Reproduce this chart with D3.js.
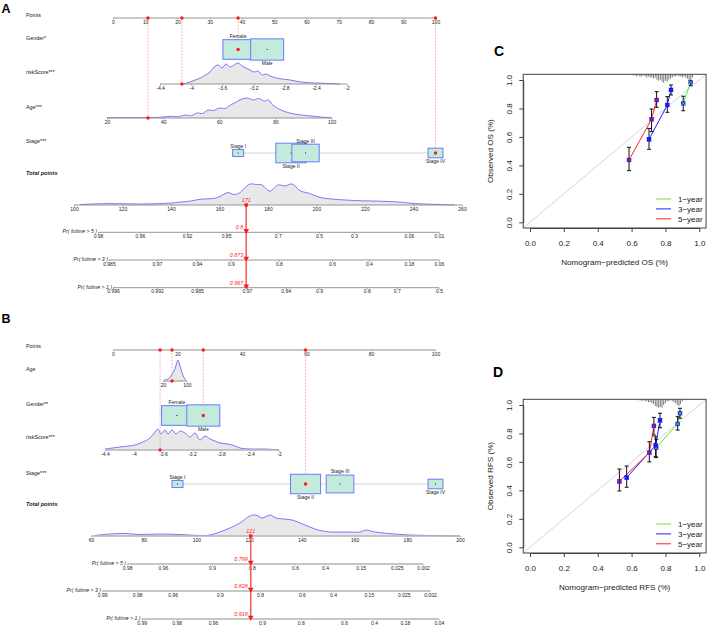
<!DOCTYPE html>
<html><head><meta charset="utf-8">
<script src="https://cdn.jsdelivr.net/npm/d3@7"></script>
<style>body{margin:0;background:#fff}svg{display:block;font-family:"Liberation Sans",Arial,sans-serif}</style>
</head><body><svg id="c" width="708" height="626"></svg>
<script>
// ================= DATA =================
// ---- shared levels ----
const genderLevels = ["Female", "Male"];
const stageLevels = ["Stage I", "Stage II", "Stage III", "Stage IV"];
const riskTicks = [-4.4, -4, -3.6, -3.2, -2.8, -2.4, -2];
const probTimes = [5, 3, 1];

// ---- Panel A (OS nomogram) ----
const rowLabelsA = ["Points", "Gender*", "riskScore***", "Age***", "Stage***", "Total points"];
const pointTicksA = [0, 10, 20, 30, 40, 50, 60, 70, 80, 90, 100];
const genderPointsA = [38.8, 47.8];
const genderFreqA = [0.46, 0.54];
const riskPointsA = [14.6, 72.6];           // points at riskScore -4.4 and -2
const riskDensA = [[-4.12,0.3],[-4.08,0.5],[-4.015,2],[-3.95,4],[-3.886,6],[-3.82,9],[-3.758,12],[-3.707,17],[-3.655,19],[-3.604,16],[-3.553,20],[-3.5,17],[-3.45,19],[-3.4,21],[-3.347,18],[-3.296,16],[-3.245,14],[-3.193,12],[-3.142,13],[-3.09,9],[-3.04,10],[-2.99,8],[-2.91,6],[-2.834,5],[-2.73,4],[-2.63,2.5],[-2.53,1.5],[-2.4,1],[-2.22,0.5],[-2.09,0]];
const ageTicksA = [20, 40, 60, 80, 100];
const agePointsA = [-1.86, 67.8];           // points at age 20 and 100
const ageDensA = [[20,0.3],[25,0.4],[30,0.3],[35,0.5],[38,0.6],[40,1],[43,1.8],[45,1.2],[48,3],[50,2.2],[52,5],[54,4.5],[56,8],[58,7.5],[60,10],[62,9.5],[64,13],[66,16],[68,19],[70,20],[72,18],[74,19.5],[76,17],[77.5,18],[79,13],[82,8],[85,5],[89,3],[93,2],[96,1],[100,0.3]];
const stagePointsA = [38.8, 55.2, 59.7, 100];
const stageFreqA = [0.06, 0.46, 0.37, 0.11];
const totalTicksA = [100, 120, 140, 160, 180, 200, 220, 240, 260];
const totalDensA = [[102.5,0.5],[114.8,1.5],[127.2,1],[139.6,2],[143.7,3],[147.8,4],[152,6],[158,7],[160.2,9],[163.5,13],[166,11],[168.5,13],[170,17],[172.6,22],[175,21.5],[177.5,21],[180.8,14.5],[184.1,21],[187,20],[190,22],[193.2,15],[197.3,12],[201.4,8],[207.6,6],[217.9,4.5],[226.2,4],[234.4,3],[240.6,1.5],[250.9,0.5],[257,0]];
const probTicksA = [
  [["0.98",109.9],["0.96",127.2],["0.92",146.6],["0.85",162.7],["0.7",184],["0.5",201],["0.3",215.5],["0.06",238.1],["0.01",250.5]],
  [["0.985",114.4],["0.97",134.2],["0.94",150.7],["0.9",164.7],["0.8",184.5],["0.6",206.4],["0.4",221.6],["0.18",238.1],["0.06",250.5]],
  [["0.996",116.1],["0.992",134.2],["0.985",150.7],["0.97",171.3],["0.94",187.3],["0.9",201],["0.8",220.7],["0.7",233.1],["0.5",250.5]]
];
const patientA = ["Female", -4.12, 34.6, "Stage IV"];   // gender, riskScore, age, stage
const probValuesA = ["0.8", "0.873", "0.967"];

// ---- Panel B (RFS nomogram) ----
const rowLabelsB = ["Points", "Age", "Gender**", "riskScore***", "Stage***", "Total points"];
const pointTicksB = [0, 20, 40, 60, 80, 100];
const ageTicksB = [20, 100];
const agePointsB = [15.5, 22.9];
const ageDensB = [[22,0.3],[26.7,1],[36.7,2],[46.7,5],[53.3,8],[60,12],[65,17],[70,21],[75,17],[80,12],[86.7,6],[93.3,2],[100,0]];
const genderPointsB = [19.8, 28.0];
const genderFreqB = [0.46, 0.54];
const riskPointsB = [-2.5, 51.5];
const riskDensB = [[-4.4,1],[-4.193,3],[-3.986,5],[-3.848,9],[-3.779,12],[-3.71,18],[-3.669,21],[-3.628,16],[-3.572,20],[-3.531,16],[-3.476,20],[-3.421,16],[-3.366,19],[-3.297,17],[-3.228,13],[-3.159,17],[-3.09,10],[-3.021,14],[-2.952,11],[-2.883,9],[-2.814,7],[-2.703,6],[-2.607,4],[-2.538,2],[-2.4,1],[-2.193,1],[-2,0]];
const stagePointsB = [20.0, 59.7, 70.4, 100];
const stageFreqB = [0.06, 0.45, 0.38, 0.11];
const totalTicksB = [60, 80, 100, 120, 140, 160, 180, 200];
const totalDensB = [[61.5,0.5],[67.2,2],[72.9,2.5],[78.6,1.5],[86.2,2],[93.8,1.5],[101.4,0.5],[105.1,1],[108.9,4],[112.7,8],[116.5,13],[120.3,20],[122.6,21],[124.9,18],[127.9,21],[130.2,18],[133.2,17],[136.3,16],[139.3,13],[143.1,9],[146.1,6],[150.7,4],[156.4,4],[162,4],[164.3,6],[167.7,4],[175.3,2],[181,1],[192.4,0.3],[200,0]];
const probTicksB = [
  [["0.98",73.7],["0.96",87.3],["0.9",105.9],["0.8",121],["0.6",137.4],["0.4",148.8],["0.15",162.3],["0.025",176],["0.002",186]],
  [["0.99",64.2],["0.98",77.5],["0.96",91],["0.9",108.9],["0.8",124.1],["0.6",140],["0.4",151.8],["0.15",165.4],["0.025",178.7],["0.002",188.6]],
  [["0.99",79.2],["0.98",92.5],["0.96",106.3],["0.9",124.9],["0.8",139.6],["0.6",156],["0.4",167.4],["0.18",179.1],["0.04",192]]
];
const patientB = [50.3, "Male", -3.64, "Stage II"];     // age, gender, riskScore, stage
const probValuesB = ["0.799", "0.828", "0.918"];

// ---- Panels C / D (calibration) ----
const calYears = ["1\u2212year", "3\u2212year", "5\u2212year"];
const calTicks = [0, 0.2, 0.4, 0.6, 0.8, 1.0];
// OS
const osPred = [[0.905, 0.949], [0.703, 0.811, 0.833], [0.585, 0.718, 0.748]];
const osObs  = [[0.836, 0.984], [0.583, 0.824, 0.930], [0.438, 0.724, 0.859]];
const osLo   = [[0.784, 0.960], [0.513, 0.773, 0.895], [0.363, 0.637, 0.808]];
const osHi   = [[0.886, 0.995], [0.660, 0.883, 0.965], [0.527, 0.796, 0.918]];
const osRugX = [0.61,0.62,0.63,0.64,0.65,0.66,0.67,0.68,0.69,0.70,0.71,0.72,0.73,0.74,0.75,0.76,0.77,0.78,0.79,0.80,0.81,0.82,0.83,0.84,0.85,0.86,0.87,0.88,0.89,0.90,0.91,0.92,0.93,0.94,0.95,0.96];
const osRugN = [1,1,2,1,2,2,1,2,3,2,3,3,4,3,5,6,5,7,8,6,7,5,4,3,2,2,1,2,2,3,2,3,4,6,7,3];
// RFS
const rfsPred = [[0.745, 0.872, 0.886], [0.571, 0.742, 0.768], [0.528, 0.705, 0.732]];
const rfsObs  = [[0.700, 0.867, 0.942], [0.490, 0.716, 0.892], [0.463, 0.666, 0.853]];
const rfsLo   = [[0.630, 0.824, 0.907], [0.422, 0.637, 0.840], [0.396, 0.600, 0.789]];
const rfsHi   = [[0.760, 0.918, 0.977], [0.571, 0.777, 0.942], [0.550, 0.742, 0.913]];
const rfsRugX = [0.64,0.65,0.66,0.67,0.68,0.69,0.70,0.71,0.72,0.73,0.74,0.75,0.76,0.77,0.78,0.79,0.80,0.81,0.82,0.83,0.84,0.85,0.86,0.87,0.88,0.89,0.90];
const rfsRugN = [1,1,2,1,2,2,3,3,4,5,7,8,9,8,9,6,4,2,2,1,2,3,4,6,7,5,2];

// ================= DRAWING =================
const svg = d3.select("#c");
const FONT = '"Liberation Sans", Arial, sans-serif';
const RED = "#ff1a1a";
const BOXFILL = "#c2ebdb", BOXSTROKE = "#6b79ff";
const DENSFILL = "#e8e8e8", DENSSTROKE = "#5a5aff";

function panelLetter(t, x, y, fs) {
  svg.append("text").attr("x", x).attr("y", y).attr("font-size", fs).attr("font-weight", "bold").attr("font-family", "Liberation Sans, Arial").text(t);
}

function nAxis(scale, vals, y, fmt, style) {
  const ax = d3.axisBottom(scale).tickValues(vals).tickFormat(fmt).tickSize(1.6).tickPadding(0.6).tickSizeOuter(0);
  const a = svg.append("g").attr("transform", `translate(0,${y})`).call(ax);
  a.select(".domain").remove();
  a.insert("line", ":first-child").attr("x1", scale(vals[0])).attr("x2", scale(vals[vals.length - 1]))
    .attr("stroke", style.col).attr("stroke-width", style.w);
  a.selectAll(".tick line").attr("stroke", style.col).attr("stroke-width", 0.7);
  a.selectAll(".tick text").attr("font-size", 5).attr("font-family", FONT).attr("fill", "#222");
  return a;
}

function density(xScale, dens, baseY, H) {
  const hs = d3.scaleLinear([0, d3.max(dens, d => d[1])], [baseY, baseY - H]);
  const area = d3.area().x(d => xScale(d[0])).y0(baseY).y1(d => hs(d[1])).curve(d3.curveCatmullRom);
  const line = d3.line().x(d => xScale(d[0])).y(d => hs(d[1])).curve(d3.curveCatmullRom);
  svg.append("path").datum(dens).attr("d", area).attr("fill", DENSFILL);
  svg.append("path").datum(dens).attr("d", line).attr("fill", "none").attr("stroke", DENSSTROKE).attr("stroke-width", 0.8);
}

function catBoxes(levels, pts, freq, ptsX, cy, selected, labelSides, withLine) {
  const area = d3.scaleLinear([0, 1], [0, 1300]);
  const dims = levels.map((lv, i) => {
    const a = area(freq[i]);
    return { h: Math.sqrt(a / 1.55), w: Math.sqrt(a * 1.55), cx: ptsX(pts[i]) };
  });
  if (withLine) {
    const f = dims[0], l = dims[dims.length - 1];
    svg.append("line").attr("x1", f.cx + f.w / 2).attr("x2", l.cx - l.w / 2).attr("y1", cy).attr("y2", cy)
      .attr("stroke", "#cfcfcf").attr("stroke-width", 0.9);
  }
  levels.forEach((lv, i) => {
    const { h, w, cx } = dims[i];
    svg.append("rect").attr("x", cx - w / 2).attr("y", cy - h / 2).attr("width", w).attr("height", h)
      .attr("fill", BOXFILL).attr("stroke", BOXSTROKE).attr("stroke-width", 1);
    if (lv === selected) svg.append("circle").attr("cx", cx).attr("cy", cy).attr("r", 1.7).attr("fill", RED);
    else svg.append("circle").attr("cx", cx).attr("cy", cy).attr("r", 0.6).attr("fill", "#000");
    const above = labelSides[i] === "a";
    svg.append("text").attr("x", cx).attr("y", above ? cy - h / 2 - 1.6 : cy + h / 2 + 5.2)
      .attr("text-anchor", "middle").attr("font-size", 5).attr("font-family", FONT).attr("fill", "#222").text(lv);
  });
}

function nomogram(cfg) {
  const ptsX = d3.scaleLinear([0, 100], [113, 435.5]);
  const totX = d3.scaleLinear(cfg.totDomain, cfg.totRange);
  const st = cfg.axStyle;
  cfg.rowLabels.forEach((t, i) => {
    const last = i === cfg.rowLabels.length - 1;
    svg.append("text").attr("x", 26).attr("y", cfg.labelY[i] + 2).attr("font-size", last ? 5.6 : 5.4)
      .attr("font-family", FONT).attr("fill", "#222")
      .attr("font-style", last ? "italic" : null).attr("font-weight", last ? "bold" : null).text(t);
  });
  const sel = [];
  nAxis(ptsX, cfg.pointTicks, cfg.pointsY, d => d, st);
  cfg.vars.forEach(v => {
    if (v.type === "cont") {
      const p = d3.scaleLinear(v.domain, v.points);
      const xs = d => ptsX(p(d));
      density(xs, v.dens, v.y, v.H);
      const xsc = d3.scaleLinear(v.domain, [xs(v.domain[0]), xs(v.domain[1])]);
      nAxis(xsc, v.ticks, v.y, d => d, st);
      sel.push([p(v.value), v.y]);
    } else {
      const idx = v.levels.indexOf(v.value);
      sel.push([v.points[idx], v.y, v]);
    }
  });
  sel.forEach(s => {
    svg.append("line").attr("x1", ptsX(s[0])).attr("x2", ptsX(s[0])).attr("y1", cfg.pointsY).attr("y2", s[1])
      .attr("stroke", "#f39a9a").attr("stroke-width", 0.7).attr("stroke-dasharray", "2,1.2");
  });
  cfg.vars.forEach(v => {
    if (v.type === "cat") catBoxes(v.levels, v.points, v.freq, ptsX, v.y, v.value, v.sides, v.line);
  });
  sel.forEach(s => {
    if (s.length === 2) svg.append("circle").attr("cx", ptsX(s[0])).attr("cy", s[1]).attr("r", 1.7).attr("fill", RED);
    svg.append("circle").attr("cx", ptsX(s[0])).attr("cy", cfg.pointsY).attr("r", 1.7).attr("fill", RED);
  });
  density(totX, cfg.totDens, cfg.totY, 21);
  nAxis(totX, cfg.totTicks, cfg.totY, d => d, st);
  const total = d3.sum(sel, s => s[0]);
  const tx = totX(total);
  cfg.probTicks.forEach((pt, i) => {
    const y = cfg.probY[i];
    nAxis(totX, pt.map(d => d[1]), y, (d, j) => pt[j][0], st);
    svg.append("text").attr("x", totX(pt[0][1]) - 1).attr("y", y + 0.8).attr("text-anchor", "end")
      .attr("font-size", 5.2).attr("font-style", "italic").attr("font-family", FONT).attr("fill", "#222")
      .text(`Pr( futime > ${probTimes[i]} )`);
  });
  svg.append("line").attr("x1", tx).attr("x2", tx).attr("y1", cfg.totY).attr("y2", cfg.probY[2])
    .attr("stroke", "#f06060").attr("stroke-width", 1.6);
  svg.append("rect").attr("x", tx - 1.7).attr("y", cfg.totY - 1.7).attr("width", 3.4).attr("height", 3.4).attr("fill", RED);
  svg.append("text").attr("x", tx).attr("y", cfg.totY - 2.6).attr("text-anchor", "middle").attr("font-size", 5.4)
    .attr("font-style", "italic").attr("font-family", FONT).attr("fill", RED).text(Math.round(total));
  cfg.probY.forEach((y, i) => {
    svg.append("path").attr("d", d3.symbol(d3.symbolTriangle, 14)()).attr("transform", `translate(${tx},${y - 1.6}) rotate(180)`).attr("fill", RED);
    svg.append("text").attr("x", tx - 3).attr("y", y - 3.2).attr("text-anchor", "end").attr("font-size", 5.4)
      .attr("font-style", "italic").attr("font-family", FONT).attr("fill", RED).text(cfg.probValues[i]);
  });
}

panelLetter("A", 1.5, 13, 12.5);
nomogram({
  rowLabels: rowLabelsA, labelY: [14.5, 38, 72, 107, 141, 173],
  pointTicks: pointTicksA, pointsY: 18, axStyle: { col: "#8a8a8a", w: 0.9 },
  vars: [
    { type: "cat", levels: genderLevels, points: genderPointsA, freq: genderFreqA, y: 49.5, value: patientA[0], sides: ["a", "b"] },
    { type: "cont", domain: [-4.4, -2], points: riskPointsA, ticks: riskTicks, dens: riskDensA, y: 84, H: 21, value: patientA[1] },
    { type: "cont", domain: [20, 100], points: agePointsA, ticks: ageTicksA, dens: ageDensA, y: 118, H: 20, value: patientA[2] },
    { type: "cat", levels: stageLevels, points: stagePointsA, freq: stageFreqA, y: 153, value: patientA[3], sides: ["a", "b", "a", "b"], line: true }
  ],
  totDomain: [100, 260], totRange: [74, 462], totTicks: totalTicksA, totDens: totalDensA, totY: 205,
  probTicks: probTicksA, probY: [232.3, 260, 287.7], probValues: probValuesA
});

panelLetter("B", 1.5, 323, 12.5);
nomogram({
  rowLabels: rowLabelsB, labelY: [346, 369, 404, 437, 473, 504],
  pointTicks: pointTicksB, pointsY: 350, axStyle: { col: "#b4b4b4", w: 1.6 },
  vars: [
    { type: "cont", domain: [20, 100], points: agePointsB, ticks: ageTicksB, dens: ageDensB, y: 381, H: 21, value: patientB[0] },
    { type: "cat", levels: genderLevels, points: genderPointsB, freq: genderFreqB, y: 415.5, value: patientB[1], sides: ["a", "b"] },
    { type: "cont", domain: [-4.4, -2], points: riskPointsB, ticks: riskTicks, dens: riskDensB, y: 450, H: 21, value: patientB[2] },
    { type: "cat", levels: stageLevels, points: stagePointsB, freq: stageFreqB, y: 484, value: patientB[3], sides: ["a", "b", "a", "b"], line: true }
  ],
  totDomain: [60, 200], totRange: [91, 460], totTicks: totalTicksB, totDens: totalDensB, totY: 536,
  probTicks: probTicksB, probY: [564, 591, 619], probValues: probValuesB
});

// ---- calibration panels ----
const calColors = ["#5ee83a", "#2020ff", "#ff2020"];
function calPanel(o) {
  const x = d3.scaleLinear([0, 1], [530, 699.3]);
  const y = d3.scaleLinear([0, 1], [o.y0, o.y0 - 142.3]);
  const bx0 = x(-0.04), bx1 = x(1.04), by0 = y(-0.04), by1 = y(1.04);
  const clipId = "clip" + o.id;
  svg.append("clipPath").attr("id", clipId).append("rect").attr("x", bx0).attr("y", by1).attr("width", bx1 - bx0).attr("height", by0 - by1);
  const g = svg.append("g").attr("clip-path", `url(#${clipId})`);
  g.append("line").attr("x1", x(-0.1)).attr("y1", y(-0.1)).attr("x2", x(1.1)).attr("y2", y(1.1)).attr("stroke", "#d0d0d0").attr("stroke-width", 0.9);
  const rh = d3.scaleLinear([0, d3.max(o.rugN)], [0, 8.5]);
  o.rugX.forEach((v, i) => {
    g.append("line").attr("x1", x(v)).attr("x2", x(v)).attr("y1", by1).attr("y2", by1 + rh(o.rugN[i])).attr("stroke", "#7a7a7a").attr("stroke-width", 1);
  });
  o.pred.forEach((ps, s) => {
    const pts = ps.map((p, i) => [x(p), y(o.obs[s][i])]);
    for (let i = 0; i < pts.length - 1; i++) {
      const [xa, ya] = pts[i], [xb, yb] = pts[i + 1];
      const L = Math.hypot(xb - xa, yb - ya), gap = 3;
      if (L > 2 * gap) {
        const ux = (xb - xa) / L, uy = (yb - ya) / L;
        g.append("line").attr("x1", xa + ux * gap).attr("y1", ya + uy * gap).attr("x2", xb - ux * gap).attr("y2", yb - uy * gap)
          .attr("stroke", calColors[s]).attr("stroke-width", 1);
      }
    }
  });
  o.pred.forEach((ps, s) => {
    ps.forEach((p, i) => {
      const cx = x(p);
      g.append("line").attr("x1", cx).attr("x2", cx).attr("y1", y(o.lo[s][i])).attr("y2", y(o.hi[s][i])).attr("stroke", "#111").attr("stroke-width", 1);
      [o.lo[s][i], o.hi[s][i]].forEach(v => g.append("line").attr("x1", cx - 2).attr("x2", cx + 2).attr("y1", y(v)).attr("y2", y(v)).attr("stroke", "#111").attr("stroke-width", 1));
    });
  });
  o.pred.forEach((ps, s) => {
    ps.forEach((p, i) => {
      const cx = x(p), cy = y(o.obs[s][i]);
      g.append("rect").attr("x", cx - 2.2).attr("y", cy - 2.2).attr("width", 4.4).attr("height", 4.4).attr("fill", "#1414ff");
      g.append("path").attr("d", `M${cx - 2},${cy - 2}L${cx + 2},${cy + 2}M${cx - 2},${cy + 2}L${cx + 2},${cy - 2}`)
        .attr("stroke", calColors[s]).attr("stroke-width", 0.9);
    });
  });
  svg.append("rect").attr("x", bx0).attr("y", by1).attr("width", bx1 - bx0).attr("height", by0 - by1).attr("fill", "none").attr("stroke", "#444").attr("stroke-width", 1);
  const ax = svg.append("g").attr("transform", `translate(0,${by0})`).call(d3.axisBottom(x).tickValues(calTicks).tickFormat(d3.format(".1f")).tickSize(4).tickPadding(8.5).tickSizeOuter(0));
  const ay = svg.append("g").attr("transform", `translate(${bx0},0)`).call(d3.axisLeft(y).tickValues(calTicks).tickFormat(d3.format(".1f")).tickSize(4).tickSizeOuter(0));
  [ax, ay].forEach(a => {
    a.select(".domain").attr("stroke", "#444");
    a.selectAll(".tick line").attr("stroke", "#444");
    a.selectAll(".tick text").attr("font-size", 8).attr("font-family", FONT).attr("fill", "#222");
  });
  ay.selectAll(".tick text").attr("x", 0).attr("y", -11.5).attr("dy", 0).attr("text-anchor", "middle").attr("transform", "rotate(-90)");
  svg.append("text").attr("x", (bx0 + bx1) / 2).attr("y", by0 + 37.5).attr("text-anchor", "middle").attr("font-size", 8.1).attr("font-family", FONT).attr("fill", "#222").text(o.xlab);
  svg.append("text").attr("transform", `translate(493,${(by0 + by1) / 2}) rotate(-90)`).attr("text-anchor", "middle").attr("font-size", 8.1).attr("font-family", FONT).attr("fill", "#222").text(o.ylab);
  calYears.forEach((t, i) => {
    const ly = o.legY + i * 9.9;
    svg.append("line").attr("x1", 656).attr("x2", 671).attr("y1", ly).attr("y2", ly).attr("stroke", calColors[i]).attr("stroke-width", 1);
    svg.append("text").attr("x", 678).attr("y", ly + 2.9).attr("font-size", 8).attr("font-family", FONT).attr("fill", "#222").text(t);
  });
}

panelLetter("C", 494, 55.5, 14);
calPanel({ id: "C", y0: 222.3, pred: osPred, obs: osObs, lo: osLo, hi: osHi, rugX: osRugX, rugN: osRugN,
  xlab: "Nomogram\u2212predicted OS (%)", ylab: "Observed OS (%)", legY: 199 });
panelLetter("D", 493, 376.5, 14);
calPanel({ id: "D", y0: 547.3, pred: rfsPred, obs: rfsObs, lo: rfsLo, hi: rfsHi, rugX: rfsRugX, rugN: rfsRugN,
  xlab: "Nomogram\u2212predicted RFS (%)", ylab: "Observed RFS (%)", legY: 524 });
</script></body></html>
